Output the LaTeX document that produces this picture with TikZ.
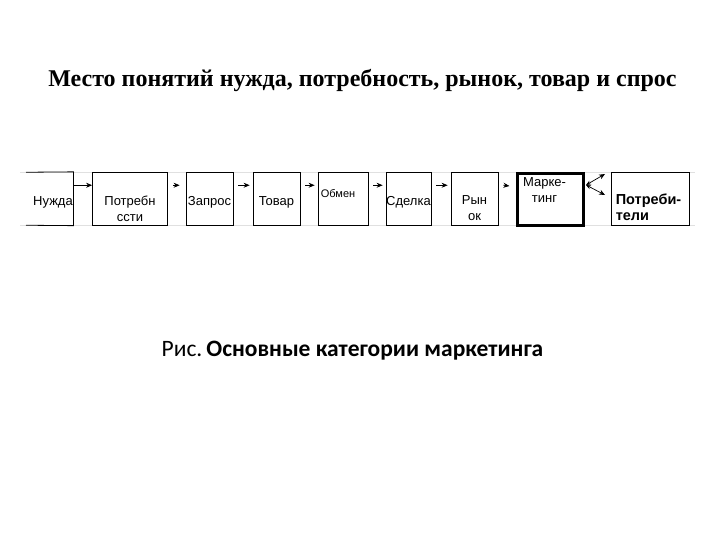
\documentclass[tikz,border=0pt]{standalone}
\usepackage{fontspec}
\setmainfont{Liberation Sans}
\newfontfamily\titlefont{Liberation Serif}
\newfontfamily\capfont{Carlito}
\usetikzlibrary{arrows.meta,calc}
\tikzset{
  box/.style={draw=black, line width=0.8pt, minimum height=53pt, inner sep=0pt,
    text height=13pt, text depth=0pt,
    font=\fontsize{13}{16}\selectfont, align=center},
  txt/.style={inner sep=0pt, align=center, font=\fontsize{13}{16}\selectfont},
  arr/.style={-{Stealth[length=6pt,width=5pt]}, line width=0.7pt},
  grid/.style={draw=black!12, line width=0.6pt},
}
\begin{document}
\begin{tikzpicture}[x=1pt,y=-1pt]
\useasboundingbox[fill=white] (0,0) rectangle (720,540);
% faint table grid
\draw[grid] (20,172) -- (695,172);
\draw[grid] (20,225.5) -- (695,225.5);
% title
\node[font=\titlefont\bfseries\fontsize{24}{28}\selectfont, anchor=base] (title) at (362.5,87) {Место понятий нужда, потребность, рынок, товар и спрос};
% boxes
\node[box, draw=none, minimum width=47pt] (n1) at (49.5,198.75) {\hspace*{7pt}Нужда};
\draw[line width=0.8pt] (26,172.25) -- (n1.north east) -- (n1.south east) -- (26,225.25);
\node[box, minimum width=75pt,
  label={[txt, yshift=-10.5pt]center:Потребн\\ссти}] (n2) at (130,198.75) {};
\node[box, minimum width=47pt] (n3) at (209.5,198.75) {Запрос};
\node[box, minimum width=47pt] (n4) at (276.5,198.75) {Товар};
\node[box, minimum width=50pt,
  label={[anchor=north west, font=\fontsize{11}{12}\selectfont, inner sep=0pt, xshift=3pt, yshift=-17pt]north west:Обмен}] (n5) at (343,198.75) {};
\node[box, minimum width=45pt] (n6) at (408.5,198.75) {Сделка};
\node[box, minimum width=47pt,
  label={[txt, yshift=-9.5pt]center:Рын\\ок}] (n7) at (474.5,198.75) {};
\node[box, line width=2.2pt, minimum width=66pt, minimum height=52pt,
  label={[anchor=north, align=center, font=\fontsize{13}{16}\selectfont, inner sep=0pt, xshift=-6pt, yshift=-5pt]north:Марке-\\тинг}] (n8) at (550.5,199.5) {};
\node[box, minimum width=78pt,
  label={[anchor=west, align=left, font=\bfseries\fontsize{14.5}{16}\selectfont, inner sep=0pt, xshift=5pt, yshift=-9pt]west:Потреби-\\тели}] (n9) at (650,198.75) {};
% arrows
\draw[arr] ([yshift=13.5pt]n1.east) -- ([yshift=13.5pt]n2.west);
\draw[arr] ([xshift=5pt,yshift=13.5pt]n2.east) -- ([xshift=-6pt,yshift=13.5pt]n3.west);
\draw[arr] ([xshift=5pt,yshift=13.5pt]n3.east) -- ([xshift=-3pt,yshift=13.5pt]n4.west);
\draw[arr] ([xshift=5pt,yshift=13.5pt]n4.east) -- ([xshift=-3pt,yshift=13.5pt]n5.west);
\draw[arr] ([xshift=5pt,yshift=13.5pt]n5.east) -- ([xshift=-3pt,yshift=13.5pt]n6.west);
\draw[arr] ([xshift=5pt,yshift=13.5pt]n6.east) -- ([xshift=-3pt,yshift=13.5pt]n7.west);
\draw[arr] ([xshift=5pt,yshift=13.5pt]n7.east) -- ([xshift=-7pt,yshift=13.5pt]n8.west);
\coordinate (m0) at (586,185);
\coordinate (m1) at (605,174);
\coordinate (m2) at (605,195);
\draw[{Stealth[length=5pt,width=4pt]}-{Stealth[length=6pt,width=5pt]}, line width=0.7pt] (m0) -- (m1);
\draw[{Stealth[length=5pt,width=4pt]}-{Stealth[length=6pt,width=5pt]}, line width=0.7pt] (m0) -- (m2);
% caption
\node[font=\capfont\fontsize{23.5}{27}\selectfont, anchor=base] (cap) at (352.5,356) {Рис.\hspace{4pt}\textbf{Основные категории маркетинга}};
\end{tikzpicture}
\end{document}
